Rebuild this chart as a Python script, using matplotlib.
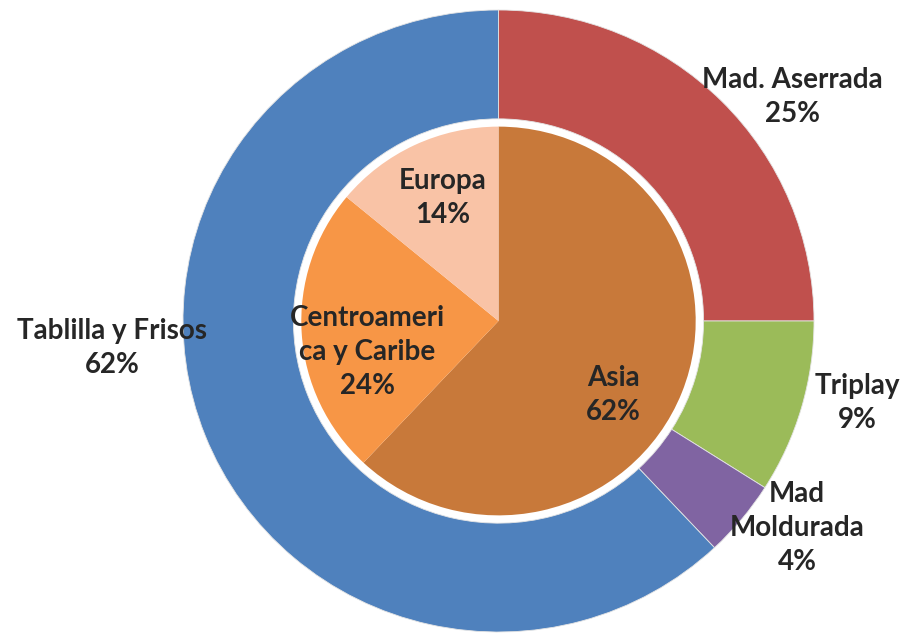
import matplotlib
matplotlib.use('Agg')
import matplotlib.pyplot as plt

# outer ring: products
productos = ['Mad. Aserrada', 'Triplay', 'Mad\nMoldurada', 'Tablilla y Frisos']
prod_pct = [25, 9, 4, 62]
prod_colors = ['#C0504D', '#9BBB59', '#8064A2', '#4F81BD']

# inner pie: destinations
destinos = ['Asia', 'Centroameri\nca y Caribe', 'Europa']
dest_pct = [62, 24, 14]
dest_colors = ['#C8793A', '#F79646', '#F9C3A6']

W, H = 905, 635
cx, cy = 498.5, 321   # pie centre in pixels (y from top)
rx, ry = 315.5, 311   # the reference is stretched a little sideways

fig = plt.figure(figsize=(W / 100, H / 100), dpi=100)
ax = fig.add_axes([(cx - rx) / W, (H - cy - ry) / H, 2 * rx / W, 2 * ry / H])

ax.pie(prod_pct, radius=1.0, colors=prod_colors, startangle=90, counterclock=False,
       wedgeprops=dict(width=0.35, edgecolor='#E4E4E4', linewidth=0.6))
ax.pie(dest_pct, radius=0.625, colors=dest_colors, startangle=90, counterclock=False,
       wedgeprops=dict(linewidth=0))
ax.set_xlim(-1, 1)
ax.set_ylim(-1, 1)
ax.set_aspect('auto')
ax.axis('off')

txt = dict(fontsize=20, fontweight='bold', color='#262626', family='Lato',
           ha='center', va='center', linespacing=1.38, transform=fig.transFigure)

# label positions in pixels (x, y from top)
prod_pos = [(792, 97), (857, 403), (797, 528), (112, 348)]
dest_pos = [(613, 395), (367, 352), (443, 198)]

for name, v, (px, py) in zip(productos, prod_pct, prod_pos):
    fig.text(px / W, 1 - py / H, f'{name}\n{v}%', **txt)
for name, v, (px, py) in zip(destinos, dest_pct, dest_pos):
    fig.text(px / W, 1 - py / H, f'{name}\n{v}%', **txt)

fig.savefig('out.png', dpi=100)
